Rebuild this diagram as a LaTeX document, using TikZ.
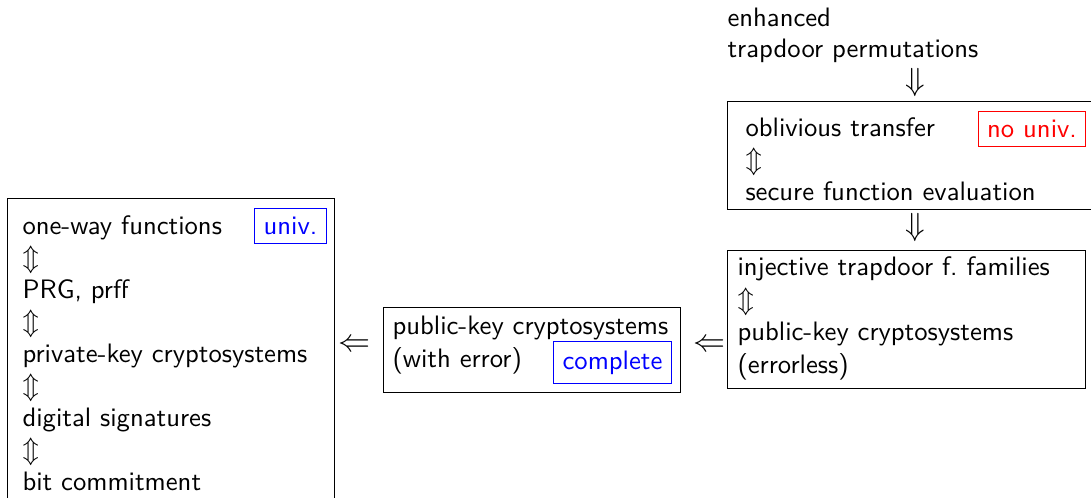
\documentclass[tikz,border=0pt]{standalone}
\usetikzlibrary{fit}
\renewcommand{\familydefault}{\sfdefault}
\tikzset{
  frame/.style={draw, line width=.35pt, inner sep=0pt},
  line/.style={anchor=base west, inner sep=0pt},
  tag/.style={draw=#1, text=#1, line width=.35pt, inner sep=3.33pt},
  imp/.style={font=\fontsize{12.5}{15}\selectfont, inner sep=0pt},
}
\begin{document}
\begin{tikzpicture}[x=.375pt,y=-.375pt]
                \useasboundingbox (0,0) rectangle (1091,498);
                % left block
                \node[frame, fit={(7,198) (334,530)}] (owf) {};
                \foreach \txt [count=\i from 0] in {one-way functions, $\Updownarrow$, {PRG, prff}, $\Updownarrow$, private-key cryptosystems, $\Updownarrow$, digital signatures, $\Updownarrow$, bit commitment}
                    \node[line] (owf\i) at (22,235+32*\i) {\txt};
                \node[tag=blue] (univ) at (290.5,226) {univ.};
                % middle block
                \node[frame, fit={(383,307) (680,392)}] (pkc) {};
                \node[line] (pkc0) at (392,335) {public-key cryptosystems};
                \node[line] (pkc1) at (392,368) {(with error)};
                \node[tag=blue] (compl) at (612.5,362.5) {complete};
                % right column
                \node[line] (etp0) at (727,27) {enhanced};
                \node[line] (etp1) at (727,58) {trapdoor permutations};
                \node[frame, fit={(727,101) (1110,209)}] (ot) {};
                \foreach \txt [count=\i from 0] in {oblivious transfer, $\Updownarrow$, secure function evaluation}
                    \node[line] (ot\i) at (745,137+32*\i) {\txt};
                \node[tag=red] (nouniv) at (1032,129) {no univ.};
                \node[frame, fit={(727,250) (1085,388)}] (itf) {};
                \foreach \txt [count=\i from 0] in {injective trapdoor f.\ families, $\Updownarrow$, public-key cryptosystems, (errorless)}
                    \node[line] (itf\i) at (737,276+32.5*\i) {\txt};
                % implications
                \node[imp] (d1) at (915,83) {$\Downarrow$};
                \node[imp] (d2) at (915,228) {$\Downarrow$};
                \node[imp] (l1) at (354.5,346) {$\Leftarrow$};
                \node[imp] (l2) at (709,346) {$\Leftarrow$};
            \end{tikzpicture}
\end{document}
